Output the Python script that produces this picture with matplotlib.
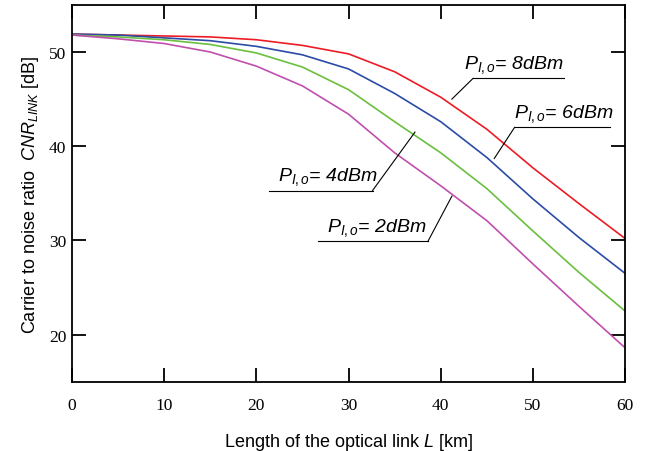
import numpy as np
import matplotlib
matplotlib.use("Agg")
import matplotlib.pyplot as plt

plt.rcParams['mathtext.fontset'] = 'custom'
plt.rcParams['mathtext.rm'] = 'Liberation Sans'
plt.rcParams['mathtext.it'] = 'Liberation Sans:italic'

# fibre length [km]
length_km = [0, 5, 10, 15, 20, 25, 30, 35, 40, 45, 50, 55, 60]

# CNR [dB] for each launch power
cnr_8dbm = [51.9, 51.8, 51.7, 51.6, 51.3, 50.7, 49.8, 47.9, 45.2, 41.8, 37.7, 33.9, 30.2]
cnr_6dbm = [51.9, 51.8, 51.5, 51.2, 50.6, 49.7, 48.2, 45.6, 42.6, 38.8, 34.4, 30.3, 26.5]
cnr_4dbm = [51.8, 51.6, 51.3, 50.8, 49.9, 48.4, 46.0, 42.6, 39.3, 35.5, 31.0, 26.6, 22.5]
cnr_2dbm = [51.8, 51.4, 50.9, 50.0, 48.5, 46.4, 43.4, 39.3, 35.8, 32.1, 27.5, 23.0, 18.6]

labels = [r'$P_{I,o}$= 8dBm', r'$P_{I,o}$= 6dBm', r'$P_{I,o}$= 4dBm', r'$P_{I,o}$= 2dBm']
colors = ['#ec1c24', '#2b4ba6', '#6abf3f', '#c04fae']

# label text start x, underline (x0, x1, y), leader start x, leader end (x, y)
text_x = [42.5, 47.9, 22.3, 27.7]
underline = [(43.5, 53.4, 47.2), (48.0, 58.3, 42.0), (21.4, 32.6, 35.3), (26.7, 38.6, 29.9)]
leader_from = [43.5, 48.0, 32.6, 38.6]
leader_end = [(41.2, 45.0), (45.8, 38.7), (37.2, 41.5), (41.2, 34.7)]

fig = plt.figure(figsize=(6.54, 4.52), dpi=100)
ax = fig.add_axes([0.110, 0.153, 0.846, 0.834])

for y, c in zip([cnr_8dbm, cnr_6dbm, cnr_4dbm, cnr_2dbm], colors):
    ax.plot(length_km, y, color=c, lw=1.2)

for lab, tx, (x0, x1, yu), xl, (xe, ye) in zip(labels, text_x, underline, leader_from, leader_end):
    ax.plot([x0, x1], [yu, yu], color='black', lw=0.8)
    ax.plot([xl, xe], [yu, ye], color='black', lw=0.8)
    ax.text(tx, yu + 1.15, lab, fontsize=14, style='italic',
            family='Liberation Sans', ha='left', va='baseline')

ax.set_xlim(0, 60)
ax.set_ylim(15, 55)
ax.set_xticks(range(0, 61, 10))
ax.set_yticks([20, 30, 40, 50])
ax.tick_params(direction='in', length=10, width=1.3, top=True, right=True,
               labelsize=12.5)
ax.tick_params(axis='x', pad=11)
ax.tick_params(axis='y', pad=4)
for lab in ax.get_xticklabels() + ax.get_yticklabels():
    lab.set_family('Liberation Serif')
for s in ax.spines.values():
    s.set_linewidth(1.3)

ax.set_xlabel(r'Length of the optical link $L$ [km]', fontsize=13,
              family='Liberation Sans', labelpad=13)
ax.set_ylabel(r'Carrier to noise ratio  $CNR_{LINK}$ [dB]', fontsize=13,
              family='Liberation Sans', labelpad=6)

fig.savefig('out.png', dpi=100)
